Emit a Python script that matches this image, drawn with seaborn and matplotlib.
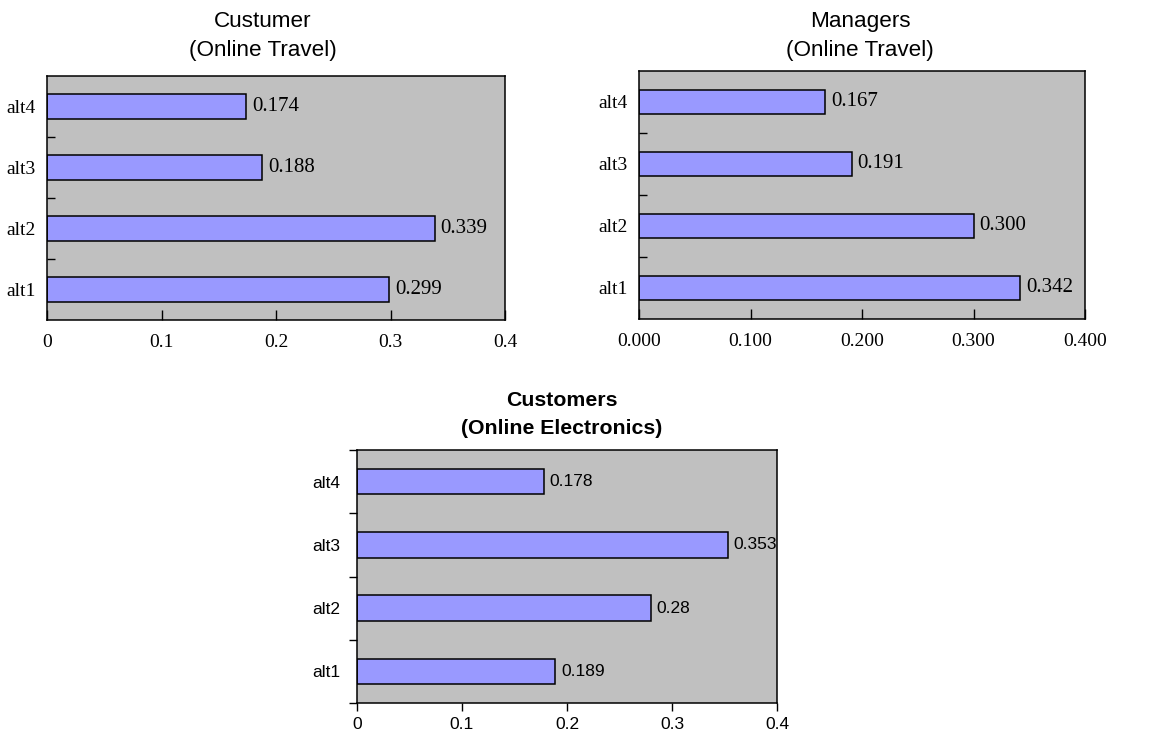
import matplotlib
matplotlib.use("Agg")
import matplotlib.pyplot as plt
import seaborn as sns
import pandas as pd
from matplotlib.ticker import FixedLocator, FuncFormatter

# Priority weights of the four alternatives in each survey group
alternatives = ["alt1", "alt2", "alt3", "alt4"]
customer_travel = [0.299, 0.339, 0.188, 0.174]
manager_travel = [0.342, 0.300, 0.191, 0.167]
customer_electronics = [0.189, 0.280, 0.353, 0.178]

x_ticks = [0.0, 0.1, 0.2, 0.3, 0.4]

sns.set_theme(style="white")
plt.rcParams["font.family"] = ["Liberation Sans", "DejaVu Sans"]
plt.rcParams["text.color"] = "black"
plt.rcParams["xtick.color"] = "black"
plt.rcParams["ytick.color"] = "black"

BAR = "#9999FF"
BG = "#C0C0C0"
W, H = 1149, 734

fig = plt.figure(figsize=(W / 100, H / 100), dpi=100)
fig.patch.set_facecolor("white")


def px_axes(left, top, right, bottom):
    return fig.add_axes([left / W, 1 - bottom / H, (right - left) / W, (bottom - top) / H])


def draw_panel(ax, values, tick_fmt, label_fmt, serif, ticks_in):
    df = pd.DataFrame({"alt": alternatives, "weight": values})
    sns.barplot(data=df, x="weight", y="alt", order=alternatives[::-1],
                color=BAR, saturation=1, edgecolor="black", linewidth=1.1,
                width=0.4, ax=ax)
    ax.set_facecolor(BG)
    ax.set_xlim(0, 0.4)
    ax.set_ylim(3.5, -0.5)
    ax.set_xlabel("")
    ax.set_ylabel("")
    for s in ax.spines.values():
        s.set_visible(True)
        s.set_color("black")
        s.set_linewidth(1.1)

    family = ["Liberation Serif", "DejaVu Serif"] if serif else ["Liberation Sans", "DejaVu Sans"]
    fsize = 14 if serif else 12.5

    ax.xaxis.set_major_locator(FixedLocator(x_ticks))
    ax.xaxis.set_major_formatter(FuncFormatter(tick_fmt))
    ax.set_yticks(range(4))
    ax.set_yticklabels(alternatives[::-1])

    if ticks_in:
        ax.set_yticks([0.5, 1.5, 2.5], minor=True)
        ax.tick_params(axis="y", which="major", length=0, pad=8)
        ax.tick_params(axis="y", which="minor", direction="in", length=6,
                       width=1, color="black", left=True)
        ax.tick_params(axis="x", which="major", direction="in", length=7,
                       width=1, color="black", bottom=True, pad=10)
    else:
        ax.set_yticks([-0.5, 0.5, 1.5, 2.5, 3.5], minor=True)
        ax.tick_params(axis="y", which="major", length=0, pad=12)
        ax.tick_params(axis="y", which="minor", direction="out", length=6,
                       width=1, color="black", left=True)
        ax.tick_params(axis="x", which="major", direction="out", length=6,
                       width=1, color="black", bottom=True, pad=4)

    for lab in ax.get_xticklabels() + ax.get_yticklabels():
        lab.set_fontfamily(family)
        lab.set_fontsize(fsize)
        lab.set_color("black")

    ax.bar_label(ax.containers[0], fmt=label_fmt, padding=4,
                 fontsize=fsize + (1 if serif else 0), family=family, color="black")


ax1 = px_axes(47, 76, 505, 320)
draw_panel(ax1, customer_travel, lambda v, p: "0" if v == 0 else f"{v:g}",
           "{:.3f}", serif=True, ticks_in=True)

ax2 = px_axes(639, 71, 1085, 319)
draw_panel(ax2, manager_travel, lambda v, p: f"{v:.3f}",
           "{:.3f}", serif=True, ticks_in=True)

ax3 = px_axes(357, 450, 777, 703)
draw_panel(ax3, customer_electronics, lambda v, p: "0" if v == 0 else f"{v:g}",
           "{:g}", serif=False, ticks_in=False)

fig.text(263 / W, 1 - 36 / H, "Custumer\n(Online Travel)", ha="center", va="center",
         fontsize=16.2, linespacing=1.45, color="black")
fig.text(860 / W, 1 - 36 / H, "Managers\n(Online Travel)", ha="center", va="center",
         fontsize=16.2, linespacing=1.45, color="black")
fig.text(562 / W, 1 - 414 / H, "Customers\n(Online Electronics)", ha="center", va="center",
         fontsize=15.3, fontweight="bold", linespacing=1.6, color="black")

fig.savefig("out.png", dpi=100)
